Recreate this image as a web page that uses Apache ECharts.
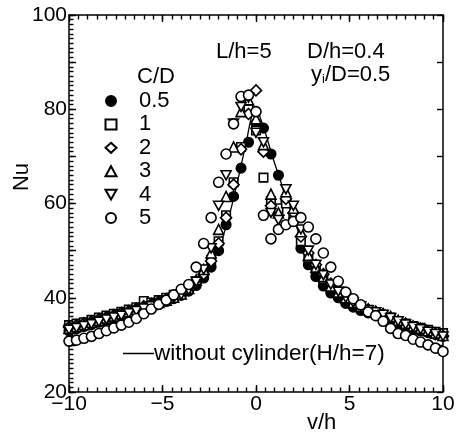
<!DOCTYPE html>
<html>
<head>
<meta charset="utf-8">
<script src="https://cdn.jsdelivr.net/npm/echarts@6/dist/echarts.min.js"></script>
<style>
html,body{margin:0;padding:0;background:#fff;}
#chart{width:458px;height:434px;}
</style>
</head>
<body>
<div id="chart"></div>
<script>
// v/h positions shared by all measured series
var xs = [-10,-9.6,-9.2,-8.8,-8.4,-8,-7.6,-7.2,-6.8,-6.4,-6,-5.6,-5.2,-4.8,-4.4,-4,-3.6,-3.2,-2.8,-2.4,-2,-1.6,-1.2,-0.8,-0.4,0,0.4,0.8,1.2,1.6,2,2.4,2.8,3.2,3.6,4,4.4,4.8,5.2,5.6,6,6.4,6.8,7.2,7.6,8,8.4,8.8,9.2,9.6,10];

var seriesNames = ['0.5','1','2','3','4','5'];

var nuCD05 = [33.0,33.4,33.9,34.3,34.8,35.2,35.6,36.0,36.5,37.0,37.5,38.0,38.6,39.2,39.8,40.5,41.4,42.6,44.2,46.5,50.0,55.5,61.5,67.5,73.0,77.0,76.0,70.5,66.0,60.5,56.5,50.5,47.0,44.5,42.5,41.0,40.0,38.8,38.0,37.3,36.8,36.3,35.8,35.0,34.4,33.9,33.4,33.0,32.6,32.2,31.8];
var nuCD1 = [34.2,34.5,34.8,35.3,35.8,36.2,36.6,37.0,37.5,38.0,39.3,39.0,39.5,40.0,40.6,41.2,42.0,43.5,45.5,48.0,52.0,57.5,64.5,72.0,80.0,75.5,65.5,60.5,59.0,60.0,57.0,52.0,48.5,46.0,44.0,42.3,41.0,39.8,38.8,38.0,37.4,36.8,36.4,35.8,35.0,34.5,34.0,33.6,33.2,32.8,32.5];
var nuCD2 = [33.8,34.2,34.6,35.0,35.5,35.9,36.3,36.8,37.2,37.7,38.2,38.7,39.2,39.7,40.3,41.0,41.8,43.2,45.0,47.8,51.5,57.0,64.0,71.5,79.0,84.0,71.0,59.5,57.5,61.0,58.0,53.0,49.5,47.0,45.0,43.0,41.5,40.2,39.0,38.2,37.5,37.0,36.5,35.8,35.0,34.4,33.8,33.3,32.8,32.3,31.9];
var nuCD3 = [33.5,33.9,34.3,34.8,35.2,35.7,36.1,36.6,37.0,37.5,38.0,38.5,39.0,39.5,40.1,40.8,42.0,43.8,46.0,49.5,54.5,61.5,72.0,79.5,82.0,78.0,72.5,62.0,58.0,62.5,59.0,54.0,49.0,46.5,44.5,42.5,41.2,40.0,39.0,38.2,37.6,37.1,36.6,36.0,35.2,34.6,34.0,33.5,33.0,32.5,32.0];
var nuCD4 = [33.2,33.6,34.0,34.4,34.9,35.4,35.8,36.2,36.7,37.2,37.7,38.2,38.8,39.4,40.0,40.6,41.6,43.4,46.0,50.5,59.5,66.0,77.0,80.5,82.5,75.0,73.0,58.0,56.5,63.0,59.5,54.5,50.0,47.0,44.8,42.8,41.3,40.0,39.0,38.2,37.4,36.9,36.4,35.7,35.0,34.3,33.8,33.3,32.8,32.3,31.8];
var nuCD5 = [30.8,31.0,31.4,31.8,32.4,33.0,33.6,34.2,34.8,35.6,36.6,37.6,38.6,39.5,40.6,41.8,42.8,46.5,51.5,57.0,64.5,70.5,76.9,82.7,83.0,79.5,57.5,52.5,54.5,55.5,56.2,57.0,55.0,52.5,49.5,46.5,43.5,41.2,39.8,38.5,37.0,36.2,35.0,33.5,32.4,32.0,31.2,30.6,30.0,29.3,28.6];

// without cylinder (H/h=7)
var lineX = [-10,-9,-8,-7,-6,-5,-4,-3.5,-3,-2.5,-2,-1.5,-1,-0.5,-0.2,0,0.2,0.5,0.8,1,1.3,1.6,2,2.5,3,3.5,4,5,6,7,8,9,10];
var lineY = [33.5,34.5,35.7,36.8,38.0,39.4,41.0,42.2,44.0,46.8,50.5,56.5,64.5,73.5,79.0,80.5,78.5,75.0,71.0,68.5,65.0,61.0,57.0,51.5,47.5,44.8,42.5,39.5,37.3,35.7,34.2,33.0,32.0];

var xTicks = [-10,-5,0,5,10];
var yTickLabels = [20,40,60,80,100];

function pairs(xArr, yArr){ return xArr.map(function(x,i){ return [x, yArr[i]]; }); }

var FONT = 'Liberation Sans, Arial, sans-serif';
var TICK = '#000';
var chart = echarts.init(document.getElementById('chart'), null, {renderer:'canvas'});

var INV_TRI = 'path://M0,0 L10,0 L5,8.7 Z';
var markerDefs = [
  {data: nuCD05, symbol:'circle', size:9.5, fill:'#000'},
  {data: nuCD1, symbol:'rect', size:8.5, fill:'#fff'},
  {data: nuCD2, symbol:'diamond', size:11, fill:'#fff'},
  {data: nuCD3, symbol:'triangle', size:10, fill:'#fff'},
  {data: nuCD4, symbol:INV_TRI, size:[10,9], fill:'#fff'},
  {data: nuCD5, symbol:'circle', size:10, fill:'#fff'}
];

var series = [{
  name: 'without cylinder(H/h=7)',
  type: 'line',
  data: pairs(lineX, lineY),
  smooth: true,
  showSymbol: false,
  symbol: 'none',
  lineStyle: {color:'#000', width:1.3},
  itemStyle: {color:'#000'},
  z: 1,
  silent: true
}];
markerDefs.forEach(function(m, i){
  series.push({
    name: seriesNames[i],
    type: 'scatter',
    data: pairs(xs, m.data),
    symbol: m.symbol,
    symbolSize: m.size,
    itemStyle: {color: m.fill, borderColor:'#000', borderWidth:1.6, opacity:1},
    z: 2 + i,
    silent: true
  });
});

function tickAxis(pos, interval, len, withLine){
  return {
    type:'value', position:pos, interval:interval,
    axisLine:{show:withLine, onZero:false, lineStyle:{color:'#000', width:1.5}},
    axisTick:{show:true, inside:true, length:len, lineStyle:{color:TICK, width:1.4}},
    splitLine:{show:false},
    axisLabel:{show:false}
  };
}

var xMajorBottom = Object.assign(tickAxis('bottom', 5, 7, true), {min:-10, max:10,
  axisLabel:{show:true, color:'#000', fontSize:21, fontFamily:FONT, margin:2,
    formatter:function(v){ return xTicks.indexOf(v) >= 0 ? String(v).replace('-', '\u2212') : ''; }}});
var xMajorTop = Object.assign(tickAxis('top', 5, 7, true), {min:-10, max:10});
var xMinorBottom = Object.assign(tickAxis('bottom', 0.5, 4.5, false), {min:-10, max:10});
var xMinorTop = Object.assign(tickAxis('top', 0.5, 4.5, false), {min:-10, max:10});

var yMajorLeft = Object.assign(tickAxis('left', 10, 7, true), {min:20, max:100,
  axisLabel:{show:true, color:'#000', fontSize:21, fontFamily:FONT, margin:2,
    formatter:function(v){ return yTickLabels.indexOf(v) >= 0 ? String(v) : ''; }}});
var yMajorRight = Object.assign(tickAxis('right', 10, 6, true), {min:20, max:100});
var yMinorLeft = Object.assign(tickAxis('left', 1, 4.5, false), {min:20, max:100});

var option = {
  animation: false,
  backgroundColor: '#fff',
  textStyle: {fontFamily: FONT},
  grid: {left:69, top:15, width:374, height:377, containLabel:false},
  xAxis: [xMajorBottom, xMajorTop, xMinorBottom, xMinorTop],
  yAxis: [yMajorLeft, yMajorRight, yMinorLeft],
  legend: [{
    data: seriesNames,
    orient:'vertical',
    left: 99.5, top: 85,
    itemWidth: 11, itemHeight: 10,
    itemGap: 1.4,
    selectedMode: false,
    textStyle:{color:'#000', fontSize:22, fontFamily:FONT, lineHeight:20, padding:[0,0,0,17.5]}
  },{
    data: ['without cylinder(H/h=7)'],
    orient:'horizontal',
    left: 118, top: 337,
    itemWidth: 31, itemHeight: 1.5,
    itemGap: 0,
    icon: 'rect',
    selectedMode: false,
    textStyle:{color:'#000', fontSize:22.5, fontFamily:FONT, lineHeight:20, padding:[0,0,0,-5]}
  }],
  graphic: [
    {type:'text', left:137, top:66, style:{text:'C/D', font:'22px ' + FONT, fill:'#000'}},
    {type:'text', left:216, top:41, style:{text:'L/h=5', font:'22px ' + FONT, fill:'#000'}},
    {type:'text', left:307, top:41, style:{text:'D/h=0.4', font:'22px ' + FONT, fill:'#000'}},
    {type:'text', left:311, top:64, style:{
      text:'{a|y}{s|i}{a|/D=0.5}',
      rich:{a:{fontSize:22, fontFamily:FONT, color:'#000'}, s:{fontSize:13, fontFamily:FONT, color:'#000', verticalAlign:'bottom', padding:[9,0,0,0]}}
    }},
    {type:'text', left:307, top:412, style:{text:'v/h', font:'22px ' + FONT, fill:'#000'}},
    {type:'text', x:22, y:177, rotation:Math.PI/2, style:{text:'Nu', font:'22px ' + FONT, fill:'#000', align:'center', verticalAlign:'middle'}}
  ],
  series: series
};
chart.setOption(option);
</script>
</body>
</html>
